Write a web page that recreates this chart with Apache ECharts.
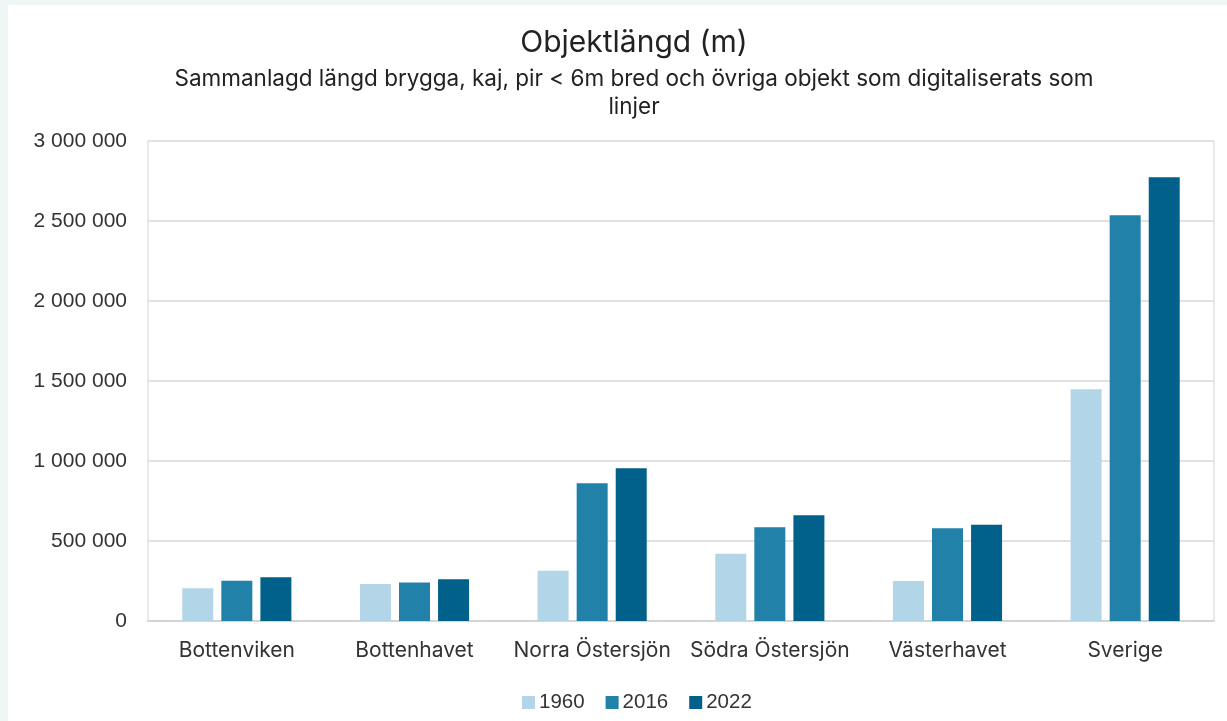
<!DOCTYPE html>
<html>
<head>
<meta charset="utf-8">
<script src="https://cdn.jsdelivr.net/npm/echarts@6/dist/echarts.min.js"></script>
<style>
  html, body { margin: 0; padding: 0; background: #eff6f6; }
  #chart { width: 1227px; height: 721px; }
</style>
</head>
<body>
<div id="chart"></div>
<script>
// regions along the x axis
const regions = ["Bottenviken", "Bottenhavet", "Norra Östersjön", "Södra Östersjön", "Västerhavet", "Sverige"];
// total length in metres per year
const y1960 = [204000, 231000, 314000, 421000, 250000, 1448000];
const y2016 = [252000, 240000, 861000, 586000, 579000, 2536000];
const y2022 = [273000, 261000, 954000, 661000, 602000, 2773000];
const yTicks = [0, 500000, 1000000, 1500000, 2000000, 2500000, 3000000];

const colors = ["#b3d5e8", "#2181a9", "#02618a"];
const fmt = v => String(v).replace(/\B(?=(\d{3})+(?!\d))/g, " ");

const chart = echarts.init(document.getElementById("chart"));
const option = {
  backgroundColor: "#eff6f6",
  color: colors,
  animation: false,
  graphic: [
    {
      type: "rect",
      shape: { x: 8, y: 5, width: 1240, height: 740 },
      style: { fill: "#ffffff" },
      z: -10,
    },
  ],
  title: [
    {
      text: "Objektlängd (m)",
      left: 629,
      top: 23,
      textAlign: "center",
      textStyle: { fontFamily: "Inter", fontSize: 30, fontWeight: "normal", color: "#222" },
    },
    {
      text: "Sammanlagd längd brygga, kaj, pir < 6m bred och övriga objekt som digitaliserats som\nlinjer",
      left: 629,
      top: 60,
      textAlign: "center",
      textStyle: { fontFamily: "Inter", fontSize: 22.5, fontWeight: "normal", color: "#222", lineHeight: 28, align: "center" },
    },
  ],
  grid: {
    left: 148,
    right: 13,
    top: 141,
    bottom: 100,
    show: true,
    borderColor: "#d4d4d4",
    borderWidth: 1,
  },
  legend: {
    data: ["1960", "2016", "2022"],
    left: 517,
    top: 687,
    icon: "rect",
    itemWidth: 13,
    itemHeight: 13,
    itemGap: 21,
    textStyle: { fontFamily: "Liberation Sans", fontSize: 20.5, color: "#333", padding: [0, 0, 0, -1] },
  },
  xAxis: {
    type: "category",
    data: regions,
    axisLine: { lineStyle: { color: "#d4d4d4", width: 2 } },
    axisTick: { show: false },
    axisLabel: { fontFamily: "Inter", fontSize: 21, color: "#333", margin: 19, interval: 0 },
  },
  yAxis: {
    type: "value",
    min: 0,
    max: 3000000,
    interval: 500000,
    axisLine: { show: false },
    axisTick: { show: false },
    splitLine: { lineStyle: { color: "#e2e2e2", width: 2 } },
    axisLabel: {
      fontFamily: "Liberation Sans",
      fontSize: 21,
      color: "#333",
      margin: 21,
      formatter: v => (yTicks.includes(v) ? fmt(v) : ""),
    },
  },
  series: [
    { name: "1960", type: "bar", data: y1960, barWidth: 31, barGap: "26%" },
    { name: "2016", type: "bar", data: y2016, barWidth: 31, barGap: "26%" },
    { name: "2022", type: "bar", data: y2022, barWidth: 31, barGap: "26%" },
  ],
};
chart.setOption(option);
</script>
</body>
</html>
